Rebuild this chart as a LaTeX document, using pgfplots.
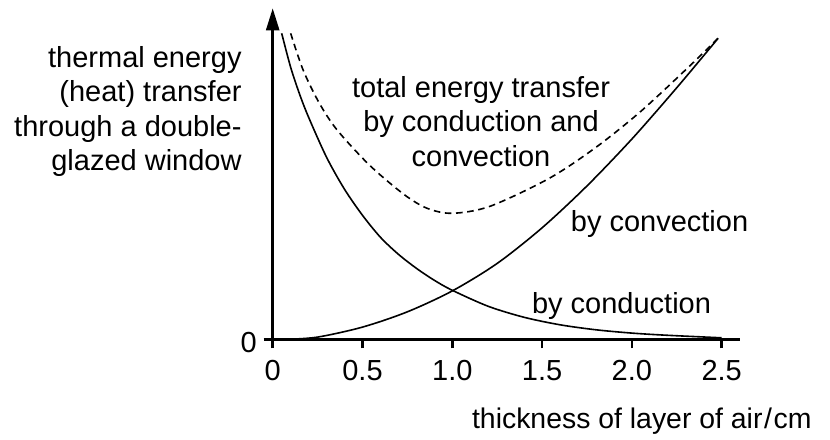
\documentclass[border=0pt]{standalone}
\usepackage{fontspec}
\setmainfont{Liberation Sans}
\usepackage{pgfplots}
\pgfplotsset{compat=1.18}
\usetikzlibrary{arrows.meta}

\begin{document}
\begin{tikzpicture}[font=\fontsize{14.5bp}{17.25bp}\selectfont]
\path[use as bounding box] (-136.35bp,-50.35bp) rectangle (278.65bp,169.65bp);
\begin{axis}[
    at={(0,0)}, anchor=south west,
    x=89.8bp, y=50bp,
    xmin=0, xmax=2.6, ymin=0, ymax=3.31,
    enlargelimits=false,
    axis lines=left,
    axis line style={line width=1.25bp},
    x axis line style={-},
    y axis line style={-{Triangle[length=11bp,width=6.5bp]}},
    xtick={0,0.5,1,1.5,2,2.5},
    xticklabels={0,0.5,1.0,1.5,2.0,2.5},
    xticklabel style={yshift=-2.5bp},
    ytick={0}, yticklabels={0},
    yticklabel style={yshift=-1.5bp},
    tick align=outside,
    major tick length=4.5bp,
    tick style={line width=1.25bp, black},
    clip=false,
]
% by conduction
\addplot[smooth, line width=0.8bp] coordinates {
    (0.05,3.06) (0.1,2.72) (0.15,2.45) (0.2,2.22) (0.3,1.82) (0.4,1.50)
    (0.5,1.24) (0.6,1.02) (0.7,0.85) (0.8,0.71) (0.9,0.59) (1.0,0.49)
    (1.2,0.33) (1.4,0.22) (1.6,0.145) (1.8,0.095) (2.0,0.062) (2.2,0.04)
    (2.5,0.015)};
% by convection
\addplot[smooth, line width=0.8bp] coordinates {
    (0.08,0) (0.25,0.022) (0.5,0.122) (0.75,0.275) (1.0,0.484) (1.25,0.759)
    (1.5,1.115) (1.75,1.534) (2.0,2.003) (2.25,2.516) (2.48,3.01)};
% total
\addplot[smooth, line width=0.8bp, dash pattern=on 3.3bp off 2.3bp] coordinates {
    (0.1,3.06) (0.17,2.69) (0.26,2.36) (0.36,2.09) (0.54,1.74) (0.73,1.45)
    (0.86,1.31) (1.0,1.26) (1.21,1.33) (1.54,1.61) (1.8,1.92) (2.05,2.28)
    (2.32,2.73) (2.44,2.94) (2.49,3.03)};

\node[anchor=north east, align=right, inner sep=0pt] at (axis cs:-0.171,2.933)
    {thermal energy\\(heat) transfer\\through a double-\\glazed window};
\node[anchor=north, align=center, inner sep=0pt] at (axis cs:1.16,2.633)
    {total energy transfer\\by conduction and\\convection};
\node[anchor=base west, inner sep=0pt] at (axis cs:1.658,1.076) {by convection};
\node[anchor=base west, inner sep=0pt] at (axis cs:1.442,0.26) {by conduction};
\node[anchor=base west, inner sep=0pt] at (axis cs:1.108,-0.89)
    {\fontsize{14.2bp}{17bp}\selectfont thickness of layer of air\kern0.8bp/\kern0.8bp cm};
\end{axis}
\end{tikzpicture}
\end{document}
